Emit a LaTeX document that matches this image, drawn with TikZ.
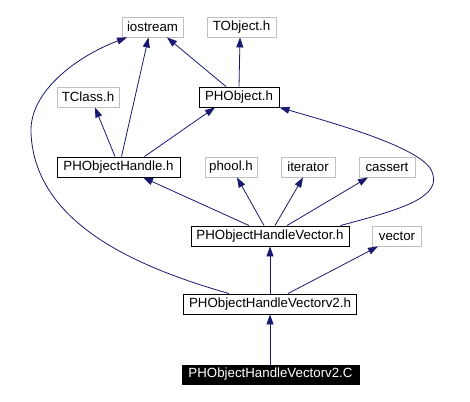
\documentclass[tikz,border=0pt]{standalone}
\usepackage{fontspec}
\setmainfont{Liberation Sans}
\usetikzlibrary{arrows.meta}
\definecolor{edgecol}{HTML}{191970}
\definecolor{graybd}{HTML}{BFBFBF}
\tikzset{
  box/.style={draw=black, line width=0.9pt, inner sep=0pt, minimum height=20pt, font=\fontsize{13.3}{16}\selectfont, text=black, fill=white},
  gbox/.style={box, draw=graybd},
  dbox/.style={box, fill=black, text=white, draw=black},
  dep/.style={draw=edgecol, line width=0.8pt, -{Triangle[length=10pt,width=7pt]}},
}
\begin{document}
\begin{tikzpicture}[x=1pt,y=-1pt]
\useasboundingbox (0,0) rectangle (470,401);
\node[gbox, minimum width=61pt] (io) at (152.5,27) {iostream};
\node[gbox, minimum width=69pt] (TO) at (241.5,27) {TObject.h};
\node[gbox, minimum width=62pt] (TC) at (88,97) {TClass.h};
\node[box, minimum width=80pt] (PO) at (239,97) {PHObject.h};
\node[box, minimum width=123pt] (PH) at (118.5,167) {PHObjectHandle.h};
\node[gbox, minimum width=52pt] (ph) at (231,167) {phool.h};
\node[gbox, minimum width=54pt] (it) at (308,167) {iterator};
\node[gbox, minimum width=56pt] (ca) at (387,167) {cassert};
\node[box, minimum width=158pt] (HV) at (270,236) {PHObjectHandleVector.h};
\node[gbox, minimum width=49pt] (ve) at (397,236) {vector};
\node[box, minimum width=173pt] (V2) at (270,304) {PHObjectHandleVectorv2.h};
\node[dbox, minimum width=177pt, minimum height=19pt] (C) at (270.5,374.5) {PHObjectHandleVectorv2.C};

\draw[dep] ([xshift=-0.5pt]C.north) -- (V2.south);
\draw[dep] (V2.north) -- (HV.south);
\draw[dep] ([xshift=18pt]V2.north) -- ([xshift=-19pt]ve.south);
\coordinate (ioleft) at (31,133);
\draw[dep] ([xshift=-41pt]V2.north) .. controls (140,268) and (35,225) .. (ioleft)
   .. controls (29,90) and (80,55) .. ([xshift=-25.5pt]io.south);
\draw[dep] ([xshift=-21pt]HV.north) -- ([xshift=24.5pt]PH.south);
\draw[dep] ([xshift=-6pt]HV.north) -- ([xshift=6pt]ph.south);
\draw[dep] ([xshift=5pt]HV.north) -- ([xshift=-5pt]it.south);
\draw[dep] ([xshift=17pt]HV.north) -- ([xshift=-19pt]ca.south);
\coordinate (poright) at (433,175);
\draw[dep] ([xshift=-9pt]HV.north east) .. controls (390,212) and (440,200) .. (poright)
   .. controls (430,150) and (340,125) .. (PO.south east);
\draw[dep] ([xshift=-3.5pt]PH.north) -- ([xshift=7pt]TC.south);
\draw[dep] ([xshift=3pt]PH.north) -- ([xshift=-4pt]io.south);
\draw[dep] ([xshift=26pt]PH.north) -- ([xshift=-24pt]PO.south);
\draw[dep] ([xshift=-13pt]PO.north) -- ([xshift=14.5pt]io.south);
\draw[dep] (PO.north) -- ([xshift=-1.5pt]TO.south);
\end{tikzpicture}
\end{document}
